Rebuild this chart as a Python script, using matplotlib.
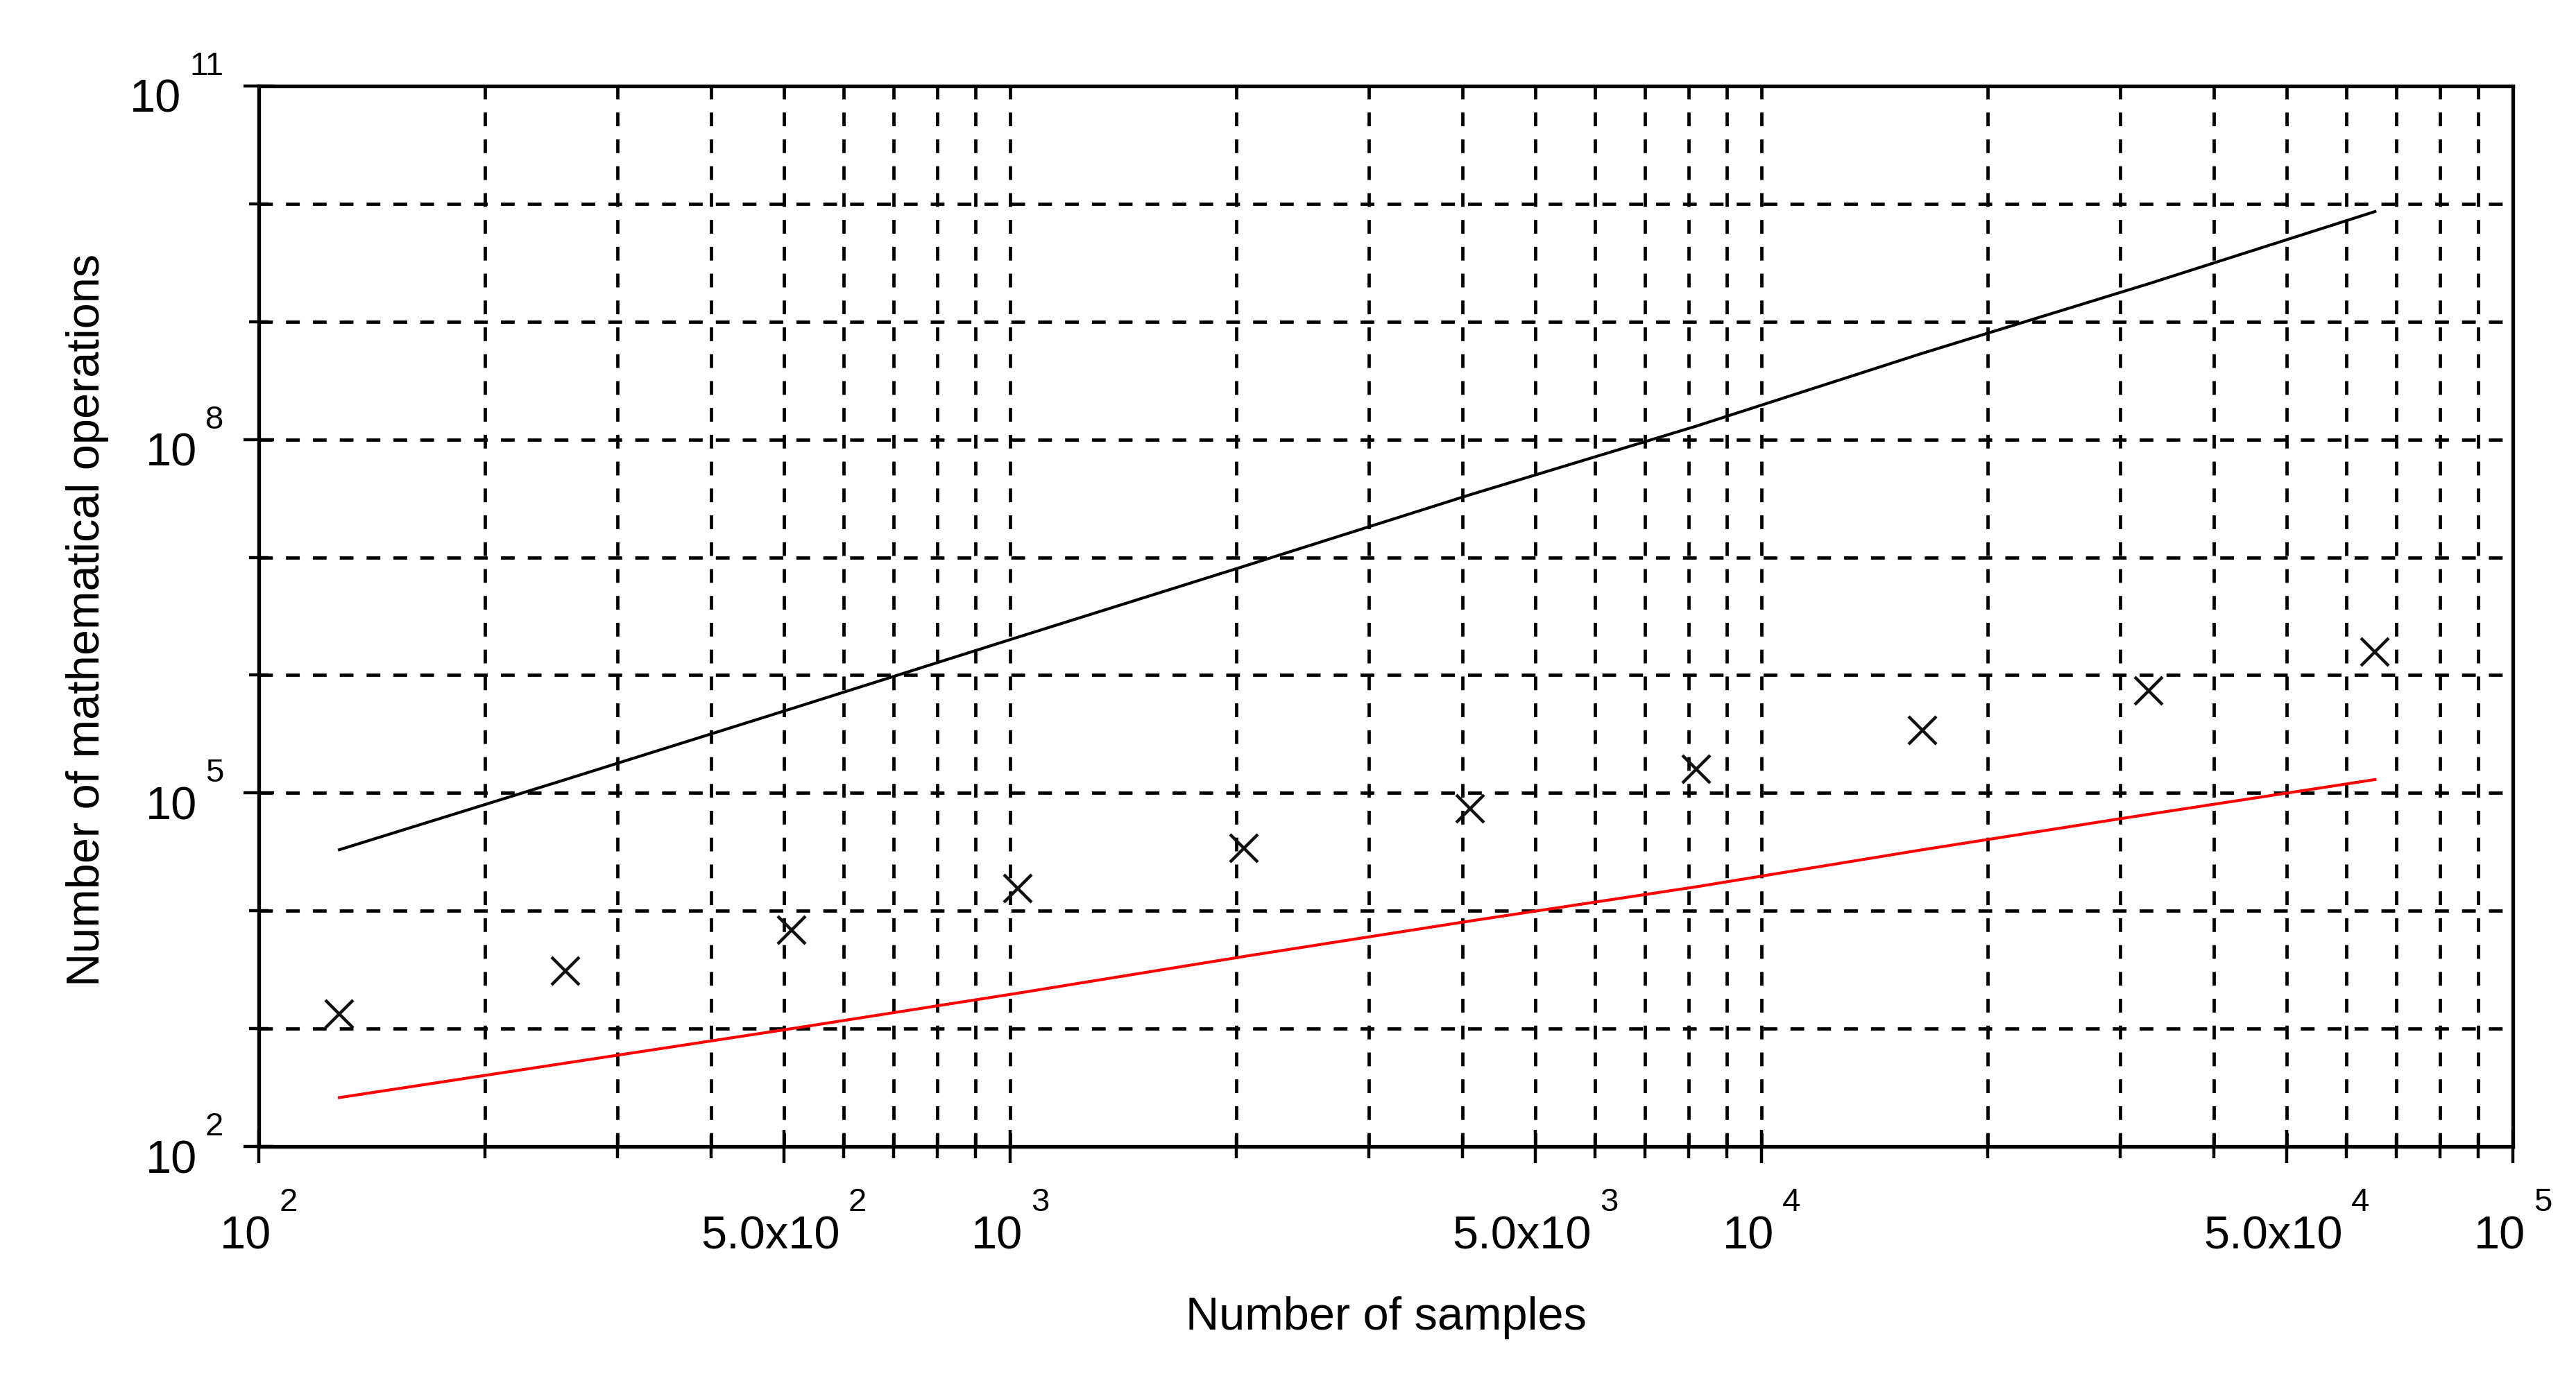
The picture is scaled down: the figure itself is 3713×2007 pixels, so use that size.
import matplotlib
matplotlib.use('Agg')
import matplotlib.pyplot as plt
import matplotlib.transforms as mtransforms
from matplotlib.ticker import NullFormatter

plt.rcParams['font.family'] = ['Liberation Sans', 'DejaVu Sans']

# ── data ──────────────────────────────────────────────────────────────────
n_samples = [128, 256, 512, 1024, 2048, 4096, 8192, 16384, 32768, 65536]
ops_measured = [1.34e3, 3.1e3, 6.9e3, 1.54e4, 3.4e4, 7.4e4, 1.6e5, 3.4e5, 7.4e5, 1.57e6]
ops_quadratic = [3.3e4, 1.3e5, 5.2e5, 2.1e6, 8.4e6, 3.4e7, 1.3e8, 5.4e8, 2.1e9, 8.6e9]
ops_linear = [2.6e2, 5.1e2, 1.0e3, 2.0e3, 4.1e3, 8.2e3, 1.6e4, 3.3e4, 6.6e4, 1.3e5]

x_major = [1e2, 5e2, 1e3, 5e3, 1e4, 5e4, 1e5]
x_major_base = ['10', '5.0x10', '10', '5.0x10', '10', '5.0x10', '10']
x_major_exp = ['2', '2', '3', '3', '4', '4', '5']
x_minor = [k * 10 ** e for e in (2, 3, 4) for k in (2, 3, 4, 6, 7, 8, 9)]

y_major = [1e2, 1e5, 1e8, 1e11]
y_major_exp = ['2', '5', '8', '11']
y_minor = [1e3, 1e4, 1e6, 1e7, 1e9, 1e10]

# ── figure ────────────────────────────────────────────────────────────────
DPI = 100
fig = plt.figure(figsize=(37.13, 20.08), dpi=DPI)
fig.patch.set_facecolor('white')
ax = fig.add_axes([0.10046, 0.17629, 0.97549 - 0.10046, 0.93775 - 0.17629])
ax.set_xscale('log')
ax.set_yscale('log')
ax.set_xlim(1e2, 1e5)
ax.set_ylim(1e2, 1e11)

ax.plot(n_samples, ops_quadratic, color='black', lw=3.0)
ax.plot(n_samples, ops_linear, color='red', lw=3.0)
ax.plot(n_samples, ops_measured, ls='none', marker='x', ms=29, mew=3.2,
        color='#111111')

# ticks + grid
ax.set_xticks(x_major)
ax.set_xticks(x_minor, minor=True)
ax.set_yticks(y_major)
ax.set_yticks(y_minor, minor=True)
for axis in (ax.xaxis, ax.yaxis):
    axis.set_major_formatter(NullFormatter())
    axis.set_minor_formatter(NullFormatter())
ax.tick_params(which='both', direction='inout', width=3.2, color='black')
ax.tick_params(axis='x', which='major', length=35)
ax.tick_params(axis='x', which='minor', length=24)
ax.tick_params(axis='y', which='major', length=32)
ax.tick_params(axis='y', which='minor', length=20)
ax.grid(which='both', color='black', lw=3.4, linestyle=(0, (4.2, 4.0)))
for sp in ax.spines.values():
    sp.set_linewidth(3.8)

# ── tick labels: base + raised exponent ───────────────────────────────────
def px(dx, dy):
    return mtransforms.ScaledTranslation(dx / DPI, dy / DPI, fig.dpi_scale_trans)

renderer = fig.canvas.get_renderer()
BASE, SUP, GAP = 48, 34, 12

xt = ax.get_xaxis_transform()
for xv, b, e in zip(x_major, x_major_base, x_major_exp):
    tb = ax.text(xv, 0, b, fontsize=BASE, ha='left', va='baseline',
                 transform=xt + px(0, -146), clip_on=False)
    ts = ax.text(xv, 0, e, fontsize=SUP, ha='left', va='baseline',
                 transform=xt + px(0, -92), clip_on=False)
    wb = tb.get_window_extent(renderer).width
    ws = ts.get_window_extent(renderer).width
    left = -(wb + GAP + ws) / 2
    tb.set_transform(xt + px(left, -146))
    ts.set_transform(xt + px(left + wb + GAP, -92))

yt = ax.get_yaxis_transform()
for yv, e in zip(y_major, y_major_exp):
    ts = ax.text(0, yv, e, fontsize=SUP, ha='right', va='baseline',
                 transform=yt + px(-51, 17), clip_on=False)
    ws = ts.get_window_extent(renderer).width
    ax.text(0, yv, '10', fontsize=BASE, ha='right', va='baseline',
            transform=yt + px(-51 - ws - GAP, -37), clip_on=False)

# ── axis labels ───────────────────────────────────────────────────────────
ax.set_xlabel('Number of samples', fontsize=48, va='baseline')
ax.xaxis.set_label_coords(0.5, -0.172)
ax.set_ylabel('Number of mathematical operations', fontsize=48,
              va='baseline', rotation_mode='anchor')
ax.yaxis.set_label_coords(-0.0708, 0.497)

fig.savefig('out.png', dpi=DPI, facecolor='white')
